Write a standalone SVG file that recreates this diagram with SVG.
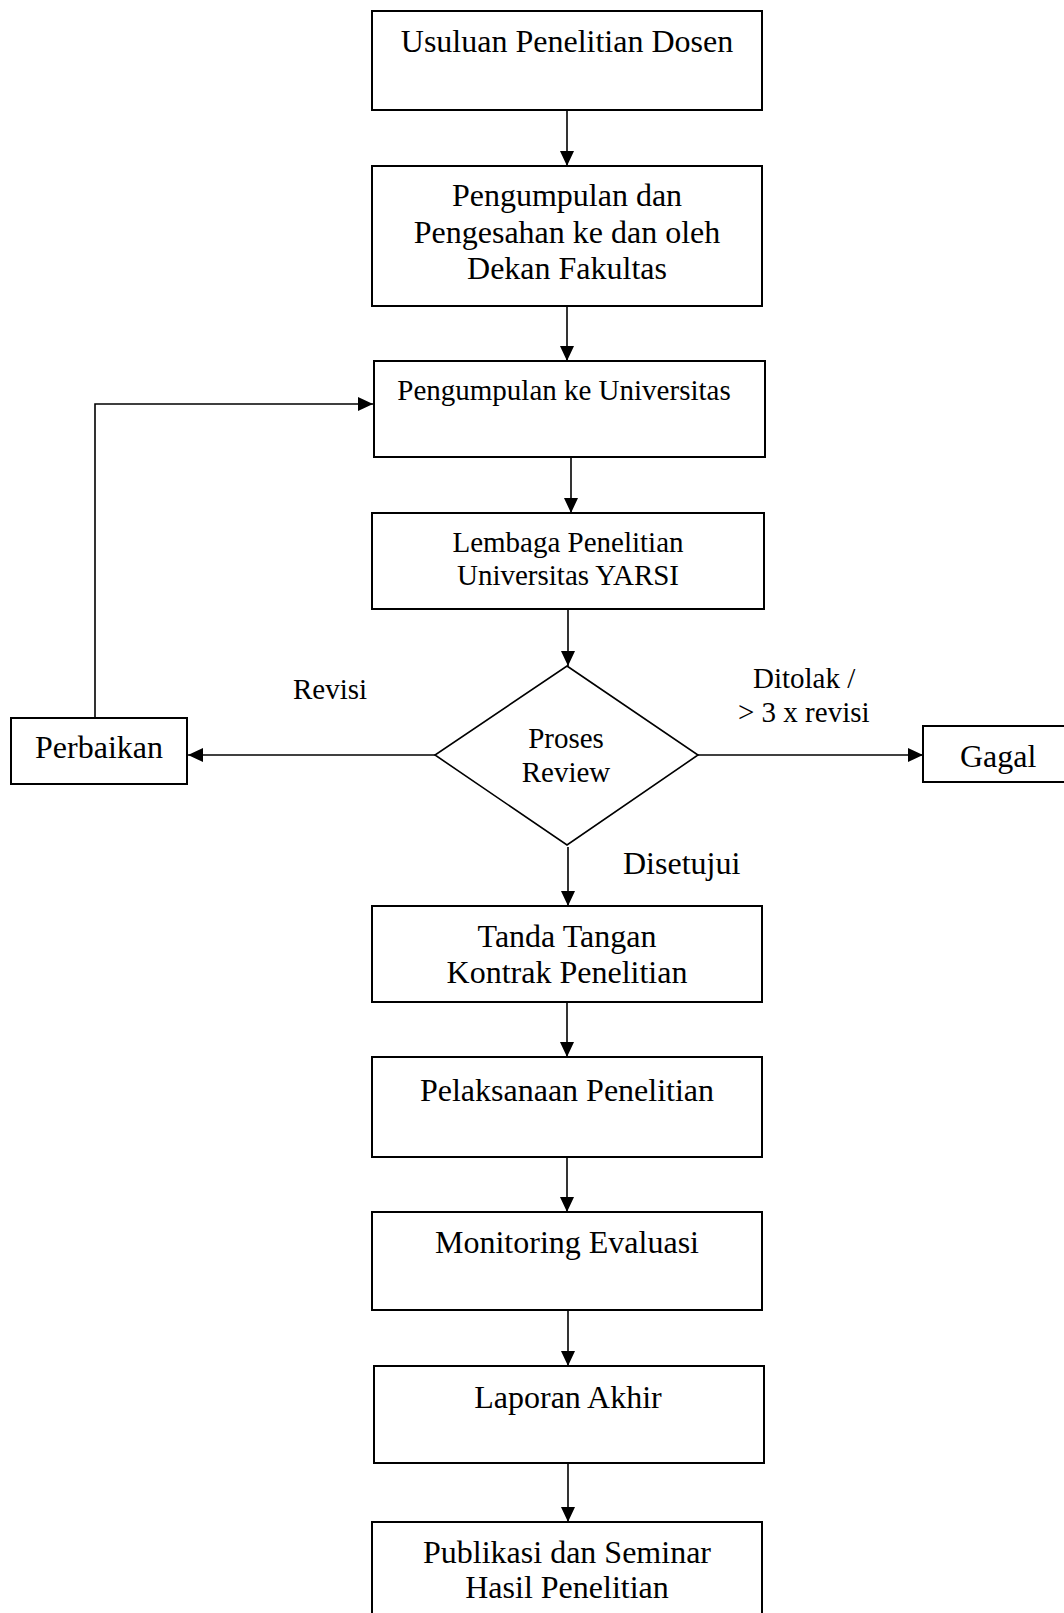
<svg xmlns="http://www.w3.org/2000/svg" width="1064" height="1613" viewBox="0 0 1064 1613">
<defs>
<marker id="arr" markerUnits="userSpaceOnUse" markerWidth="16" markerHeight="14" refX="15" refY="7" orient="auto">
<path d="M0,0 L15,7 L0,14 Z" fill="#000"/>
</marker>
<style>
.box{fill:#fff;stroke:#000;stroke-width:2}
.dia{fill:#fff;stroke:#000;stroke-width:1.6}
.ln{fill:none;stroke:#000;stroke-width:1.6}
.t{font-family:"Liberation Serif","Times New Roman",serif;font-size:32px;fill:#000;text-anchor:middle}
.s{font-family:"Liberation Serif","Times New Roman",serif;font-size:29px;fill:#000;text-anchor:middle}
.sl{font-family:"Liberation Serif","Times New Roman",serif;font-size:29px;fill:#000}
.tl{font-family:"Liberation Serif","Times New Roman",serif;font-size:32px;fill:#000}
</style>
</defs>
<rect width="1064" height="1613" fill="#fff"/>
<g id="connectors">
<line class="ln" x1="567" y1="110" x2="567" y2="166" marker-end="url(#arr)"/>
<line class="ln" x1="567" y1="306" x2="567" y2="361" marker-end="url(#arr)"/>
<line class="ln" x1="571" y1="457" x2="571" y2="513" marker-end="url(#arr)"/>
<line class="ln" x1="568" y1="609" x2="568" y2="666" marker-end="url(#arr)"/>
<line class="ln" x1="435" y1="755" x2="188" y2="755" marker-end="url(#arr)"/>
<line class="ln" x1="698" y1="755" x2="923" y2="755" marker-end="url(#arr)"/>
<line class="ln" x1="568" y1="847" x2="568" y2="906" marker-end="url(#arr)"/>
<line class="ln" x1="567" y1="1002" x2="567" y2="1057" marker-end="url(#arr)"/>
<line class="ln" x1="567" y1="1157" x2="567" y2="1212" marker-end="url(#arr)"/>
<line class="ln" x1="568" y1="1310" x2="568" y2="1366" marker-end="url(#arr)"/>
<line class="ln" x1="568" y1="1464" x2="568" y2="1522" marker-end="url(#arr)"/>
<polyline class="ln" points="95,718 95,404 373,404" marker-end="url(#arr)"/>
<text class="sl" x="293" y="699">Revisi</text>
<text class="sl" x="753" y="688">Ditolak /</text>
<text class="sl" x="738" y="722">&gt; 3 x revisi</text>
<text class="tl" x="623" y="874">Disetujui</text>
</g>
<g id="n1">
<rect class="box" x="372" y="11" width="390" height="99"/>
<text class="t" x="567" y="52">Usuluan Penelitian Dosen</text>
</g>
<g id="n2">
<rect class="box" x="372" y="166" width="390" height="140"/>
<text class="t" x="567" y="206">Pengumpulan dan</text>
<text class="t" x="567" y="243">Pengesahan ke dan oleh</text>
<text class="t" x="567" y="279">Dekan Fakultas</text>
</g>
<g id="n3">
<rect class="box" x="374" y="361" width="391" height="96"/>
<text class="s" x="564" y="400">Pengumpulan ke Universitas</text>
</g>
<g id="n4">
<rect class="box" x="372" y="513" width="392" height="96"/>
<text class="s" x="568" y="552">Lembaga Penelitian</text>
<text class="s" x="568" y="585">Universitas YARSI</text>
</g>
<g id="n5">
<polygon class="dia" points="567,666 698,755 567,845 435,755"/>
<text class="s" x="566" y="748">Proses</text>
<text class="s" x="566" y="782">Review</text>
</g>
<g id="n6">
<rect class="box" x="11" y="718" width="176" height="66"/>
<text class="t" x="99" y="758">Perbaikan</text>
</g>
<g id="n7">
<rect class="box" x="923" y="726" width="150" height="56"/>
<text class="tl" x="960" y="767">Gagal</text>
</g>
<g id="n8">
<rect class="box" x="372" y="906" width="390" height="96"/>
<text class="t" x="567" y="947">Tanda Tangan</text>
<text class="t" x="567" y="983">Kontrak Penelitian</text>
</g>
<g id="n9">
<rect class="box" x="372" y="1057" width="390" height="100"/>
<text class="t" x="567" y="1101">Pelaksanaan Penelitian</text>
</g>
<g id="n10">
<rect class="box" x="372" y="1212" width="390" height="98"/>
<text class="t" x="567" y="1253">Monitoring Evaluasi</text>
</g>
<g id="n11">
<rect class="box" x="374" y="1366" width="390" height="97"/>
<text class="t" x="568" y="1408">Laporan Akhir</text>
</g>
<g id="n12">
<rect class="box" x="372" y="1522" width="390" height="100"/>
<text class="t" x="567" y="1563">Publikasi dan Seminar</text>
<text class="t" x="567" y="1598">Hasil Penelitian</text>
</g>
</svg>
